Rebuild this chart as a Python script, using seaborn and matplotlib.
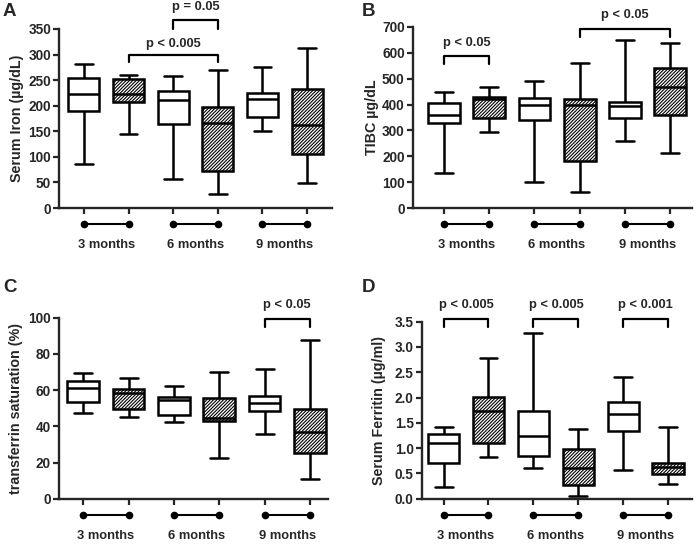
import pandas as pd
import matplotlib
matplotlib.use("Agg")
import matplotlib.pyplot as plt
import matplotlib.transforms as mtransforms
from matplotlib.ticker import FormatStrFormatter
import seaborn as sns

sns.set_style("ticks")
plt.rcParams["font.family"] = ["Liberation Sans", "DejaVu Sans"]
plt.rcParams["font.weight"] = "bold"
plt.rcParams["hatch.linewidth"] = 0.8

# box order: 3m, 3m (hatched), 6m, 6m (hatched), 9m, 9m (hatched)
# each box: min, q1, median, q3, max
iron_stats = [[87, 189, 222, 254, 281], [144, 207, 222, 253, 261],
              [57, 164, 212, 228, 259], [28, 72, 166, 198, 269],
              [151, 178, 213, 224, 276], [49, 106, 163, 233, 313]]
tibc_stats = [[135, 327, 358, 405, 447], [293, 349, 420, 428, 469],
              [103, 340, 398, 424, 491], [63, 184, 398, 420, 561],
              [259, 347, 394, 411, 649], [214, 360, 466, 539, 636]]
tsat_stats = [[47.6, 53.3, 61.3, 65.0, 69.3], [45.4, 49.6, 58.5, 60.4, 66.5],
              [42.4, 46.3, 54.4, 56.1, 62.2], [22.6, 43.0, 44.6, 55.6, 69.8],
              [35.7, 48.4, 52.7, 56.7, 71.8], [11.0, 25.4, 36.8, 49.4, 87.7]]
ferritin_stats = [[0.24, 0.70, 1.11, 1.28, 1.42], [0.82, 1.11, 1.74, 2.02, 2.79],
                  [0.61, 0.84, 1.24, 1.74, 3.27], [0.05, 0.28, 0.61, 0.98, 1.38],
                  [0.57, 1.34, 1.67, 1.91, 2.41], [0.30, 0.49, 0.62, 0.70, 1.42]]

month_labels = ["3 months", "6 months", "9 months"]
pairs = [(0, 1), (2, 3), (4, 5)]

# brackets: (box a, box b, leg y, top y, label y, text)
iron_brackets = [(2, 3, 350, 368, 393, "p = 0.05"), (1, 3, 285, 300, 321, "p < 0.005")]
tibc_brackets = [(0, 1, 556, 587, 638, "p < 0.05"), (3, 5, 661, 690, 745, "p < 0.05")]
tsat_brackets = [(4, 5, 94.7, 99.3, 107, "p < 0.05")]
ferritin_brackets = [(0, 1, 3.39, 3.55, 3.83, "p < 0.005"), (2, 3, 3.39, 3.55, 3.83, "p < 0.005"),
                     (4, 5, 3.39, 3.55, 3.83, "p < 0.001")]

W, H = 697, 544
fig = plt.figure(figsize=(W / 100, H / 100), dpi=100)

panels = [
    dict(letter="A", stats=iron_stats, brackets=iron_brackets, ylabel="Serum Iron (µg/dL)",
         rect=(59.3, 29, 331.7, 208), xlim=(-0.55, 5.55), ylim=350, step=50, fmt="%d",
         lpos=(3, 12), pad=3),
    dict(letter="B", stats=tibc_stats, brackets=tibc_brackets, ylabel="TIBC µg/dL",
         rect=(413, 26.7, 692, 208.3), xlim=(-0.68, 5.48), ylim=700, step=100, fmt="%d",
         lpos=(362, 12), pad=2),
    dict(letter="C", stats=tsat_stats, brackets=tsat_brackets, ylabel="transferrin saturation (%)",
         rect=(59.3, 317.7, 328, 498.7), xlim=(-0.53, 5.40), ylim=100, step=20, fmt="%d",
         lpos=(3, 288), pad=4),
    dict(letter="D", stats=ferritin_stats, brackets=ferritin_brackets, ylabel="Serum Ferritin (µg/ml)",
         rect=(422, 321.7, 692, 498.7), xlim=(-0.48, 5.53), ylim=3.5, step=0.5, fmt="%.1f",
         lpos=(362, 288), pad=6),
]

for p in panels:
    x0, y0, x1, y1 = p["rect"]
    ax = fig.add_axes([x0 / W, 1 - y1 / H, (x1 - x0) / W, (y1 - y0) / H])

    rows = []
    for i, s in enumerate(p["stats"]):
        for v in s:
            rows.append({"pos": i, "value": v})
    df = pd.DataFrame(rows)

    sns.boxplot(data=df, x="pos", y="value", order=list(range(6)), whis=(0, 100),
                width=0.7, color="white", linecolor="black", linewidth=1.8,
                showfliers=False, ax=ax, capwidths=0.4)
    for j, patch in enumerate(ax.patches):
        if j % 2 == 1:
            patch.set_hatch("//////////")

    ax.set_xlim(*p["xlim"])
    ax.set_ylim(0, p["ylim"])
    n = int(round(p["ylim"] / p["step"]))
    ax.set_yticks([k * p["step"] for k in range(n + 1)])
    ax.yaxis.set_major_formatter(FormatStrFormatter(p["fmt"]))
    ax.set_xticks(range(6))
    ax.set_xticklabels([])
    ax.set_xlabel("")
    ax.set_ylabel(p["ylabel"], fontsize=10.3, fontweight="bold", labelpad=p["pad"])
    ax.tick_params(axis="both", width=1.6, length=4, labelsize=9.8, pad=2)
    for lab in ax.get_yticklabels():
        lab.set_fontweight("bold")
    sns.despine(ax=ax)
    for side in ["left", "bottom"]:
        ax.spines[side].set_linewidth(1.7)

    # pair connectors and time labels under the axis
    line_tr = mtransforms.offset_copy(ax.get_xaxis_transform(), fig=fig, y=-16, units="dots")
    text_tr = mtransforms.offset_copy(ax.get_xaxis_transform(), fig=fig, y=-37, units="dots")
    for (a, b), lab in zip(pairs, month_labels):
        ax.plot([a, b], [0, 0], transform=line_tr, color="black", lw=1.5,
                marker="o", ms=4.5, clip_on=False)
        ax.text((a + b) / 2, 0, lab, transform=text_tr, ha="center", va="center",
                fontsize=9.3, fontweight="bold")

    # significance brackets
    for a, b, yl, yt, ytxt, txt in p["brackets"]:
        ax.plot([a, a, b, b], [yl, yt, yt, yl], color="black", lw=1.6, clip_on=False)
        ax.text((a + b) / 2, ytxt, txt, ha="center", va="center", fontsize=9.3,
                fontweight="bold")

    fig.text(p["lpos"][0] / W, 1 - p["lpos"][1] / H, p["letter"], fontsize=13.5,
             fontweight="bold", va="center", ha="left")

fig.savefig("out.png", dpi=100)
